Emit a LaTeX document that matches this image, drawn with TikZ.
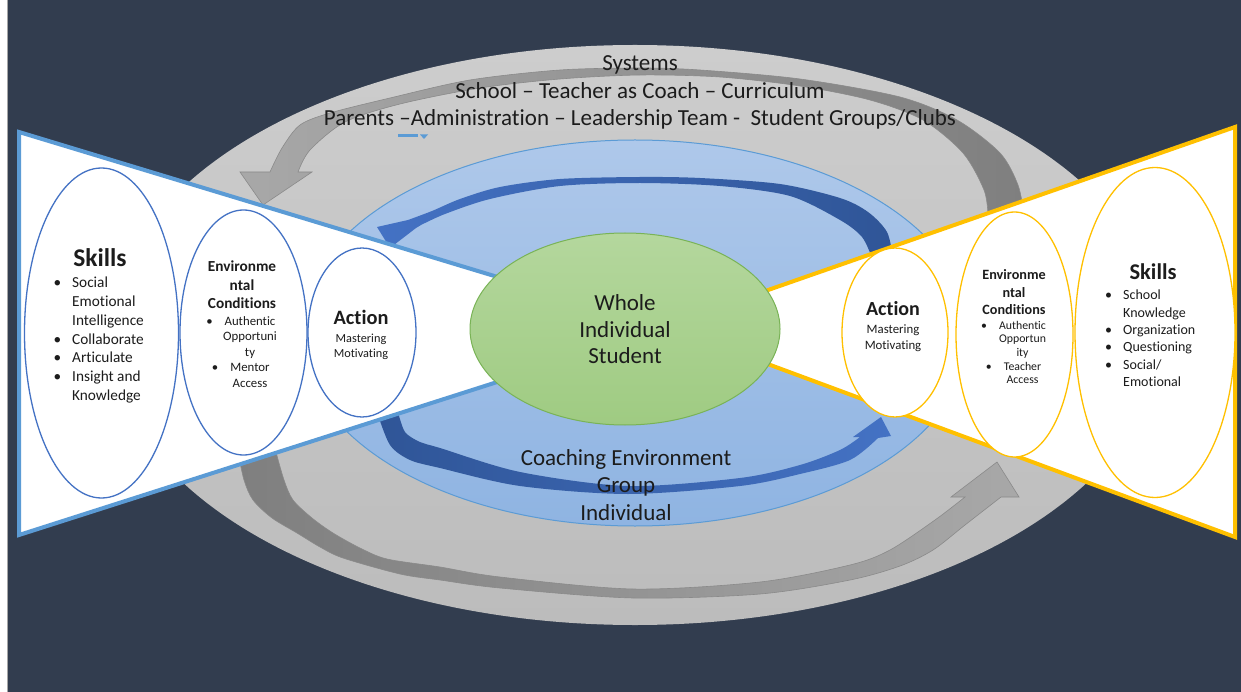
\documentclass[tikz,border=0pt]{standalone}
\usepackage{fontspec}
\setmainfont{Carlito}[Ligatures=NoCommon]
\usetikzlibrary{shapes.geometric}
\definecolor{navy}{HTML}{323D4F}
\definecolor{greyA}{HTML}{CDCDCD}
\definecolor{greyB}{HTML}{BCBCBC}
\definecolor{arrowDark}{HTML}{7F7F7F}
\definecolor{arrowLight}{HTML}{A8A8A8}
\definecolor{arrowEdge}{HTML}{8A8A8A}
\definecolor{blueA}{HTML}{AEC8EA}
\definecolor{blueB}{HTML}{8FB4E2}
\definecolor{blueEdge}{HTML}{5B9BD5}
\definecolor{dkblueA}{HTML}{2F5597}
\definecolor{dkblueB}{HTML}{4472C4}
\definecolor{greenA}{HTML}{B4D79D}
\definecolor{greenB}{HTML}{9FCB82}
\definecolor{greenEdge}{HTML}{79B356}
\definecolor{triBlue}{HTML}{5B9BD5}
\definecolor{triGold}{HTML}{FFC000}
\definecolor{ovBlue}{HTML}{4472C4}
\definecolor{ovGold}{HTML}{FFC000}
\definecolor{ink}{HTML}{1C1C1C}
\newcommand\myfs[2]{\fontsize{#1pt}{#2pt}\selectfont}
\newcommand\mybul[1]{\llap{\textbullet\hspace{#1}}}
\tikzset{
  oval/.style={ellipse, inner sep=0pt, fill=white, line width=1.3pt},
  leftoval/.style={oval, draw=ovBlue},
  rightoval/.style={oval, draw=ovGold},
  txt/.style={inner sep=0pt, text=ink, anchor=base},
  txtl/.style={inner sep=0pt, text=ink, anchor=base west},
}
\begin{document}
\begin{tikzpicture}[x=1pt,y=-1pt]
\useasboundingbox (0,0) rectangle (1241,692);
\fill[navy] (0,0) rectangle (1241,692);
\fill[white] (0,0) rectangle (7,692);
\draw[gray!70, line width=0.8pt] (7.4,0) -- (7.4,692);

% outer grey ellipse
\shade[top color=greyA, bottom color=greyB] (635,335) ellipse [x radius=525pt, y radius=290pt];

% top grey arrow
\shade[left color=arrowLight, right color=arrowDark, draw=arrowEdge, line width=0.6pt]
  plot[smooth] coordinates {(1024,215) (1018,185) (1000,153) (957,120) (900,97) (800,79) (700,70) (640,68) (560,70) (470,80) (390,98) (330,113) (300,125) (282,148) (270,172)}
  -- (240,172) -- (263,205) -- (312,172) --
  plot[smooth] coordinates {(298,172) (310,150) (345,122) (400,104) (480,88) (560,79) (640,75) (720,77) (800,86) (870,100) (923,120) (963,153) (984,190) (988,215)} -- cycle;

% bottom grey arrow
\shade[left color=arrowDark, right color=arrowLight, draw=arrowEdge, line width=0.6pt]
  plot[smooth] coordinates {(238,452) (244,480) (253,500) (272,518) (297,533) (320,547) (343,558) (400,574) (440,580) (500,588) (633,598) (760,594) (850,580) (900,566) (933,550) (965,525) (1001,497)}
  -- (1019,497) -- (997,462) -- (951,497) --
  plot[smooth] coordinates {(965,497) (935,520) (890,550) (850,565) (760,582) (633,589) (500,577) (440,567) (387,559) (360,548) (333,533) (312,518) (293,500) (284,480) (276,452)} -- cycle;

% blue ellipse
\shade[top color=blueA, bottom color=blueB] (635,333) ellipse [x radius=335pt, y radius=193pt];
\draw[blueEdge, line width=1pt] (635,333) ellipse [x radius=335pt, y radius=193pt];

% top blue arrow
\shade[left color=dkblueB, right color=dkblueA]
  plot[smooth] coordinates {(893,258) (887,232) (868,212) (840,198) (780,184) (700,178) (640,177) (560,179) (500,187) (460,199) (432,211) (408,220)}
  -- (377,227) -- (390,248) -- (416,228) --
  plot[smooth] coordinates {(421,225) (445,214) (490,199) (560,186) (640,183) (720,186) (790,196) (840,220) (862,237) (872,258)} -- cycle;

% bottom blue arrow
\shade[left color=dkblueA, right color=dkblueB]
  plot[smooth] coordinates {(398,412) (405,432) (420,442) (440,448) (520,472) (628,486) (740,478) (800,465) (840,450) (860,437)}
  -- (853,437) -- (881,417) -- (891,436) --
  plot[smooth] coordinates {(878,438) (850,460) (800,474) (740,486) (628,494) (520,486) (440,468) (410,460) (390,445) (377,412)} -- cycle;

% triangles
\filldraw[fill=white, draw=triBlue, line width=4pt] (19,132) -- (666,328) -- (19,535) -- cycle;
\filldraw[fill=white, draw=triGold, line width=4pt] (1235,127) -- (665,326) -- (1235,537) -- cycle;

% green centre
\node[ellipse, top color=greenA, bottom color=greenB, draw=greenEdge, line width=1pt,
      minimum width=310pt, minimum height=192pt, inner sep=0pt] (student) at (625,329) {};

% small blue mark
\fill[blueEdge] (398,134) rectangle (418,137.5);
\fill[blueEdge] (420,134.5) -- (428,134.5) -- (424,139) -- cycle;

% inner ovals
\node[leftoval, minimum width=154pt, minimum height=330pt] (lskills) at (101.5,333) {};
\node[leftoval, minimum width=127pt, minimum height=245pt] (lenv) at (243.5,332.5) {};
\node[leftoval, minimum width=108pt, minimum height=169pt] (laction) at (362,332.5) {};
\node[rightoval, minimum width=106pt, minimum height=169pt] (raction) at (895,332.5) {};
\node[rightoval, minimum width=117pt, minimum height=245pt] (renv) at (1014.5,334.5) {};
\node[rightoval, minimum width=160pt, minimum height=330pt] (rskills) at (1155,332.5) {};

% texts
\node[txt] (systems) at (640,71) {\myfs{23}{27.3}\begin{tabular}[t]{@{}c@{}}Systems\\School – Teacher as Coach – Curriculum\\Parents –Administration – Leadership Team -~~Student Groups/Clubs\end{tabular}};

\node[txt] (whole) at (625,310) {\myfs{23}{27}\begin{tabular}[t]{@{}c@{}}Whole\\Individual\\Student\end{tabular}};
\node[txt] (coaching) at (626,465) {\myfs{23}{27.5}\begin{tabular}[t]{@{}c@{}}Coaching Environment\\Group\\Individual\end{tabular}};

\node[txt] (lskillshead) at (100,267) {\myfs{25.5}{30}\bfseries Skills};
\node[txtl] (lskillslist) at (72,288) {\myfs{15.3}{18.7}\begin{tabular}[t]{@{}l@{}}\mybul{11pt}Social\\Emotional\\Intelligence\\\mybul{11pt}Collaborate\\\mybul{11pt}Articulate\\\mybul{11pt}Insight and\\Knowledge\end{tabular}};

\node[txt] (lenvhead) at (242,272) {\myfs{15.3}{18.5}\bfseries\begin{tabular}[t]{@{}c@{}}Environme\\ntal\\Conditions\end{tabular}};
\node[txt] (lenvlist) at (250,325.5) {\myfs{12.8}{15.5}\begin{tabular}[t]{@{}c@{}}\mybul{12pt}Authentic\\Opportuni\\ty\\\mybul{12pt}Mentor\\Access\end{tabular}};

\node[txt] (lacthead) at (361,324.5) {\myfs{20.4}{24}\bfseries Action};
\node[txt] (lactlist) at (361,342.5) {\myfs{12.3}{15}\begin{tabular}[t]{@{}c@{}}Mastering\\Motivating\end{tabular}};

\node[txt] (racthead) at (893,315.5) {\myfs{20}{24}\bfseries Action};
\node[txt] (ractlist) at (893,333.5) {\myfs{12.8}{16}\begin{tabular}[t]{@{}c@{}}Mastering\\Motivating\end{tabular}};

\node[txt] (renvhead) at (1014,280) {\myfs{14.2}{17.5}\bfseries\begin{tabular}[t]{@{}c@{}}Environme\\ntal\\Conditions\end{tabular}};
\node[txt] (renvlist) at (1022.5,329) {\myfs{11.8}{13.75}\begin{tabular}[t]{@{}c@{}}\mybul{12pt}Authentic\\Opportun\\ity\\\mybul{12pt}Teacher\\Access\end{tabular}};

\node[txt] (rskillshead) at (1153,280) {\myfs{22.5}{27}\bfseries Skills};
\node[txtl] (rskillslist) at (1123,300) {\myfs{14}{17.3}\begin{tabular}[t]{@{}l@{}}\mybul{11pt}School\\Knowledge\\\mybul{11pt}Organization\\\mybul{11pt}Questioning\\\mybul{11pt}Social/\\Emotional\end{tabular}};
\end{tikzpicture}
\end{document}
